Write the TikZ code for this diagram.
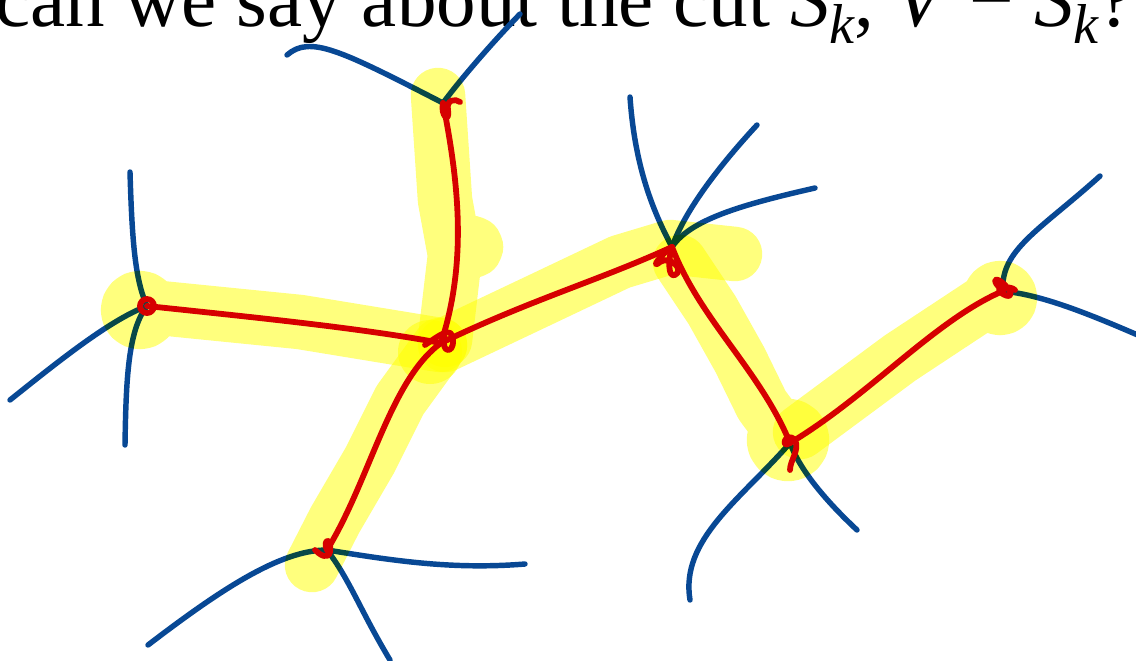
\documentclass[tikz,border=0pt]{standalone}
\usepackage{fontspec}
\usepackage{tikz}
\usetikzlibrary{calc}
\newfontfamily\qfont{Liberation Serif}
\newcommand{\lowk}{\lower0.22em\hbox{\fontsize{32}{32}\selectfont\itshape k}}
\definecolor{inkred}{RGB}{214,0,0}
\definecolor{inkblue}{RGB}{8,72,148}
\definecolor{hilite}{RGB}{255,255,125}

\begin{document}
\begin{tikzpicture}[
    x=0.02cm, y=-0.02cm,
    redink/.style={draw=inkred, line width=3.3pt, line cap=round, line join=round},
    blueink/.style={draw=inkblue, line width=3.1pt, line cap=round},
    marker/.style={draw=hilite, line width=31pt, line cap=round, line join=round},
]
    \useasboundingbox (0,0) rectangle (1136,660);
    \clip (0,0) rectangle (1136,660);

    % Question (cut off at the top)
    \node[anchor=base west, inner sep=0pt, font=\qfont\fontsize{45}{54}\selectfont]
        (question) at (-5,26) {can we say about the cut \textit{S}\lowk, \textit{V} − \textit{S}\lowk?};

    % Tree vertices
    \coordinate (a) at (147,306);
    \coordinate (b) at (441,343);
    \coordinate (c) at (443,103);
    \coordinate (d) at (327,550);
    \coordinate (e) at (672,247);
    \coordinate (f) at (790,443);
    \coordinate (g) at (1003,291);

    % Loose ends of the other edges
    \coordinate (a1) at (130,172);
    \coordinate (a2) at (10,400);
    \coordinate (a3) at (125,445);
    \coordinate (c1) at (287,55);
    \coordinate (c2) at (520,14);
    \coordinate (e1) at (630,97);
    \coordinate (e2) at (757,125);
    \coordinate (e3) at (815,188);
    \coordinate (f1) at (690,600);
    \coordinate (f2) at (857,530);
    \coordinate (g1) at (1100,176);
    \coordinate (g2) at (1140,336);
    \coordinate (d1) at (148,645);
    \coordinate (d2) at (525,564);
    \coordinate (d3) at (390,660);

    % Other edges
    \draw[blueink] (a1) .. controls (132,240) and (135,280) .. (a);
    \draw[blueink] (a2) .. controls (60,360) and (110,320) .. (a);
    \draw[blueink] (a3) .. controls (126,380) and (128,330) .. (a);
    \draw[blueink] (c1) .. controls (310,35) and (340,50) .. (c);
    \draw[blueink] (c2) .. controls (490,45) and (460,80) .. (c);
    \draw[blueink] (e1) .. controls (635,170) and (655,215) .. (e);
    \draw[blueink] (e2) .. controls (720,165) and (685,210) .. (e);
    \draw[blueink] (e3) .. controls (740,205) and (690,220) .. (e);
    \draw[blueink] (f1) .. controls (680,540) and (740,500) .. (f);
    \draw[blueink] (f2) .. controls (825,500) and (800,470) .. (f);
    \draw[blueink] (g1) .. controls (1040,230) and (1000,250) .. (g);
    \draw[blueink] (g2) .. controls (1080,310) and (1040,295) .. (g);
    \draw[blueink] (d1) .. controls (220,590) and (280,550) .. (d);
    \draw[blueink] (d2) .. controls (450,570) and (390,560) .. (d);
    \draw[blueink] (d3) .. controls (360,610) and (350,580) .. (d);

    % Spanning tree edges
    \draw[redink] (a) .. controls (260,318) and (360,328) .. (b);
    \draw[redink] (c) .. controls (458,180) and (468,260) .. (b);
    \draw[redink] (b) .. controls (390,380) and (370,480) .. (d);
    \draw[redink] (b) .. controls (530,300) and (600,280) .. (e);
    \draw[redink] (e) .. controls (700,320) and (760,370) .. (f);
    \draw[redink] (f) .. controls (870,395) and (935,320) .. (g);

    % Knots at the vertices
    \draw[redink] (a) circle[radius=7];
    \draw[redink] (425,345) .. controls (440,335) and (452,325) .. (453,340)
        .. controls (454,355) and (440,352) .. (445,338);
    \draw[redink] (c) .. controls (440,115) and (450,125) .. (448,110)
        .. controls (446,100) and (455,98) .. (460,102);
    \draw[redink] (e) .. controls (660,255) and (650,270) .. (660,262)
        .. controls (670,255) and (685,270) .. (675,275) .. controls (668,278) and (668,260) .. (e);
    \draw[redink] (f) .. controls (780,450) and (785,430) .. (795,440)
        .. controls (800,450) and (790,460) .. (790,470);
    \draw[redink] (g) .. controls (990,280) and (995,275) .. (1005,285)
        .. controls (1015,295) and (1010,300) .. (1000,292) .. controls (995,288) and (1010,285) .. (1015,290);
    \draw[redink] (d) .. controls (322,540) and (332,535) .. (330,552)
        .. controls (328,560) and (320,555) .. (315,550);

    % Highlighter over the tree
    \begin{scope}[blend mode=multiply]
        \draw[marker] (140,310) circle[radius=12] (140,306) -- (300,322) -- (440,345);
        \draw[marker] (438,95) -- (445,200) -- (455,255) -- (445,340) (472,247) circle[radius=4];
        \draw[marker] (445,345) -- (540,300) -- (620,262) -- (670,247) -- (735,254);
        \draw[marker] (680,262) -- (712,310) -- (740,360) -- (762,405) -- (788,440) (788,440) circle[radius=14];
        \draw[marker] (800,432) -- (900,358) -- (1000,292) (1000,298) circle[radius=10];
        \draw[marker] (440,345) -- (400,400) -- (370,460) -- (335,520) -- (312,565);
        \fill[hilite] (430,352) circle[radius=32];
    \end{scope}
\end{tikzpicture}
\end{document}
